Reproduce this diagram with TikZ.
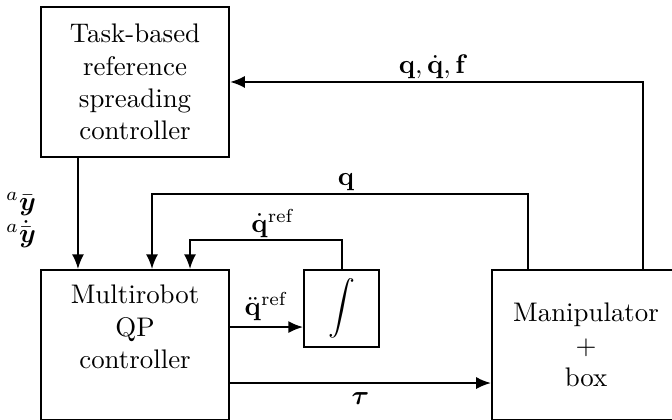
\documentclass[tikz,border=0pt]{standalone}
\usepackage{amsmath, amssymb}
\usepackage{tikz}
\usetikzlibrary{arrows.meta}

\begin{document}
\begin{tikzpicture}[line width=0.75pt, >={Latex[length=5.5pt, width=4.5pt]},
        block/.style={draw, black, minimum width=2.46cm, minimum height=1.96cm, align=center},
        sig/.style={above, inner sep=0.8pt}]
        \useasboundingbox (0,0) rectangle (8.788,-5.48);
        \clip (0,0) rectangle (8.788,-5.48);
        % blocks
        \node[block] (task) at (1.766,-1.072)
            {Task-based\\reference\\spreading\\controller};
        \node[block] (multi) at (1.766,-4.512) {};
        \node[align=center] (multitext) at (1.766,-4.277)
            {Multirobot\\QP\\controller};
        \node[block] (manip) at (7.664,-4.512) {Manipulator\\$+$\\box};
        \node[block, minimum width=0.98cm, minimum height=0.98cm] (integ)
            at (4.467,-4.035) {$\displaystyle\int$};
        \node[align=center, anchor=east] (yref) at (0.6,-2.88)
            {${}^a\bar{\boldsymbol{y}}$\\${}^a\dot{\bar{\boldsymbol{y}}}$};
        % signals
        \coordinate (qdd) at ([yshift=0.235cm]multi.east);
        \coordinate (tq) at ([yshift=-0.497cm]multi.east);
        \draw[->]
            ([xshift=0.497cm]task.south west) -- ([xshift=0.497cm]multi.north west);
        \draw[->]
            ([xshift=0.484cm]manip.north west) -- ++(0,0.981)
            -| node[sig, pos=0.242] {$\mathbf{q}$} ([xshift=1.465cm]multi.north west);
        \draw[->]
            (integ.north) -- ++(0,0.37)
            -| node[sig, pos=0.225] {$\dot{\mathbf{q}}^{\mathrm{ref}}$} ([xshift=1.962cm]multi.north west);
        \draw[->]
            ([xshift=-0.497cm]manip.north east)
            |- node[sig, pos=0.754] {$\mathbf{q}, \dot{\mathbf{q}}, \mathbf{f}$} (task.east);
        \draw[->]
            (qdd) -- node[sig, inner sep=2pt] {$\ddot{\mathbf{q}}^{\mathrm{ref}}$} (qdd -| integ.west);
        \draw[->]
            (tq) -- node[below] {$\boldsymbol{\tau}$} (tq -| manip.west);
    \end{tikzpicture}
\end{document}
